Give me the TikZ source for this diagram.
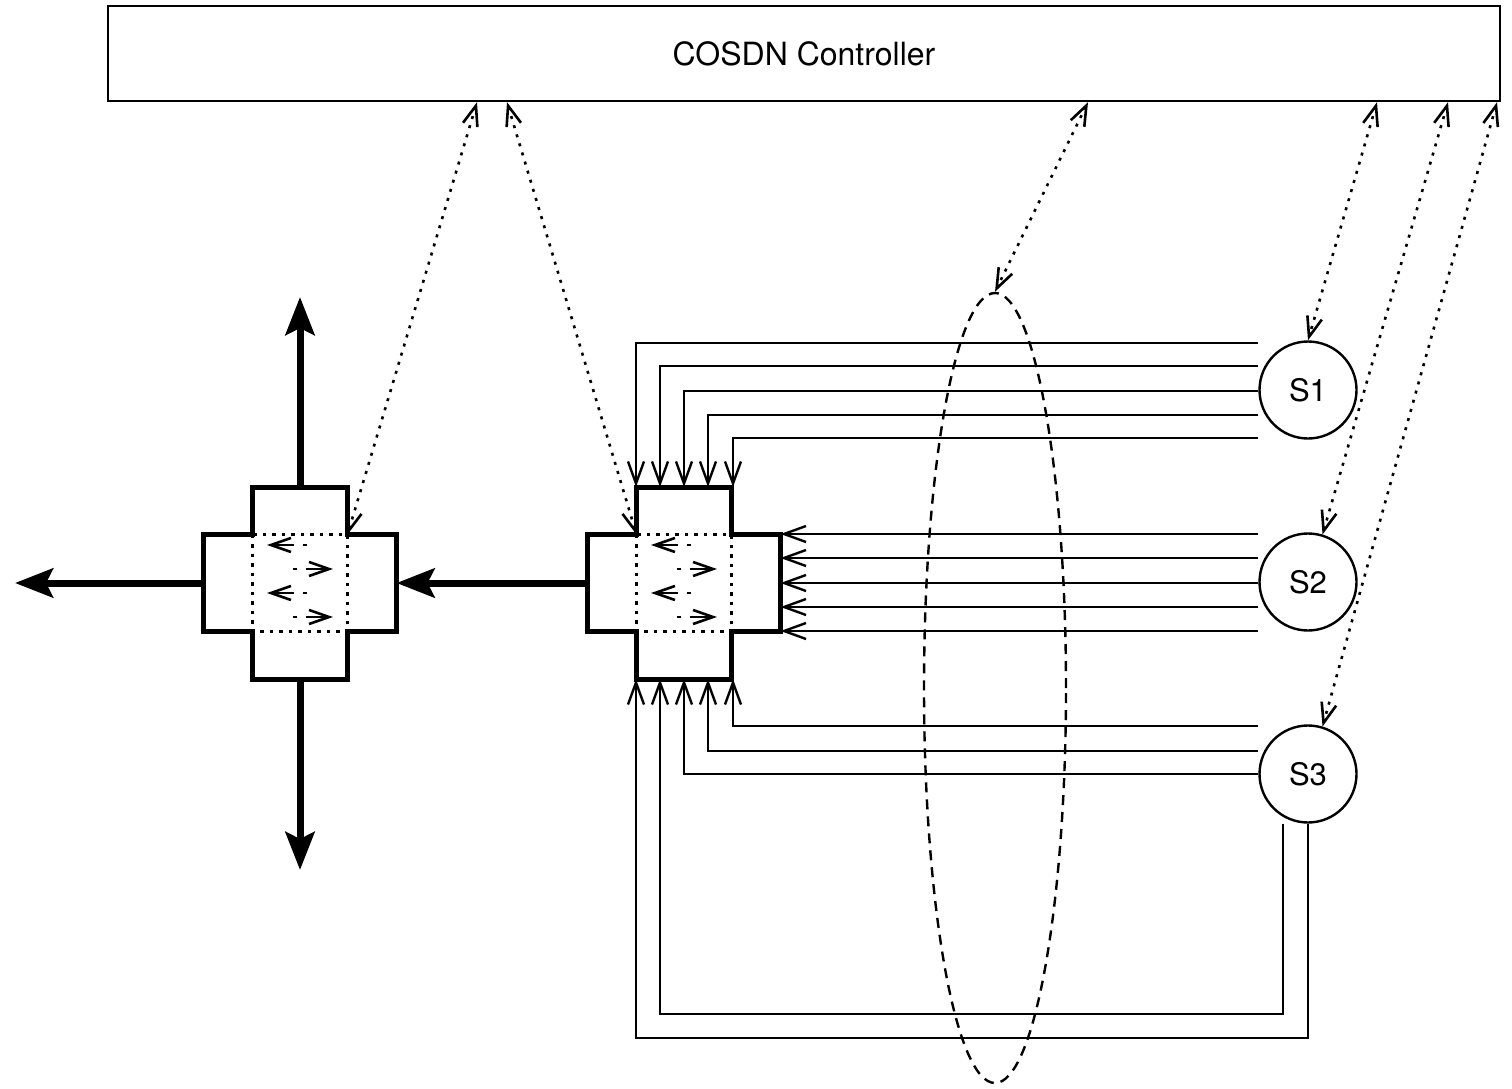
\documentclass[tikz,border=0pt]{standalone}
\usepackage{fontspec}
\setmainfont{TeX Gyre Heros}
\usetikzlibrary{arrows.meta,shapes.geometric}
\newcommand\mkcross[3]{%
  \node[colbox] (#1) at (#2,#3) {};
  \node[armbox] (#1a) at (#2,#3) {};
  \draw[innerdot] (#1.north west |- #1a.north) rectangle (#1.south east |- #1a.south);
  \draw[crossline] (#1.north west) -- (#1.north east) -- (#1.north east |- #1a.north) -- (#1a.north east) -- (#1a.south east) -- (#1.south east |- #1a.south) -- (#1.south east) -- (#1.south west) -- (#1.south west |- #1a.south) -- (#1a.south west) -- (#1a.north west) -- (#1.north west |- #1a.north) -- cycle;
  \foreach \dy in {-38,10} {
    \draw[inarrow] ([shift={(7,\dy)}]#1.center) -- ([shift={(-33,\dy)}]#1.center);
  }
  \foreach \dy in {-14,34} {
    \draw[inarrow] ([shift={(-7,\dy)}]#1.center) -- ([shift={(33,\dy)}]#1.center);
  }
}
\begin{document}
\begin{tikzpicture}[x=1pt,y=-1pt,
  ctrlbox/.style={draw, line width=2.4pt, minimum width=1392pt, minimum height=95pt, inner sep=0pt, font=\fontsize{32}{38}\selectfont},
  swnode/.style={draw, circle, line width=2.4pt, minimum size=97pt, inner sep=0pt, font=\fontsize{31}{36}\selectfont},
  colbox/.style={inner sep=0pt, outer sep=0pt, minimum width=95pt, minimum height=192pt},
  armbox/.style={inner sep=0pt, outer sep=0pt, minimum width=193pt, minimum height=97pt},
  crossline/.style={line width=5pt, line join=miter},
  innerdot/.style={line width=3pt, dash pattern=on 3.5pt off 6pt},
  inarrow/.style={line width=2.6pt, dash pattern=on 4pt off 9pt on 40pt, -{Straight Barb[length=20pt,width=14pt]}},
  feed/.style={line width=2.4pt, -{Straight Barb[length=22pt,width=16pt]}},
  ctrlarrow/.style={line width=2.6pt, dash pattern=on 3pt off 6.5pt, {Straight Barb[length=20pt,width=15pt]}-{Straight Barb[length=20pt,width=15pt]}},
  bigarrow/.style={line width=7pt, -{Stealth[length=38pt,width=29pt,inset=7pt]}},
  grpellipse/.style={draw, ellipse, line width=2.4pt, dash pattern=on 10pt off 7pt, minimum width=142pt, minimum height=790pt, inner sep=0pt}
]
\useasboundingbox (0,0) rectangle (1512,1089);

\node[ctrlbox] (ctrl) at (804,53.5) {COSDN Controller};
\node[swnode] (S1) at (1308,390) {S1};
\node[swnode] (S2) at (1308,582) {S2};
\node[swnode] (S3) at (1308,774) {S3};

\mkcross{swL}{300}{583}
\mkcross{swR}{684}{583}

\node[grpellipse] (grp) at (995,688) {};

% feeds from S1
\foreach \y/\x in {343/636,366/660,391/684,415/708,438/733}
  \draw[feed] (S1.west |- 0,\y) -| (\x,0 |- swR.north);
% feeds from S2
\foreach \y in {534,558,583,607,631}
  \draw[feed] (S2.west |- 0,\y) -- (swRa.east |- 0,\y);
% feeds from S3
\foreach \y/\x in {726/733,751/708,774/684}
  \draw[feed] (S3.west |- 0,\y) -| (\x,0 |- swR.south);
\draw[feed] (S3.south -| 1283,0) -- (1283,1014) -| (660,0 |- swR.south);
\draw[feed] (S3.south) -- (1308,1038) -| (636,0 |- swR.south);

% controller links
\draw[ctrlarrow] (477,0 |- ctrl.south) -- (swL.north east |- swLa.north);
\draw[ctrlarrow] (507,0 |- ctrl.south) -- (swR.north west |- swRa.north);
\draw[ctrlarrow] (1088,0 |- ctrl.south) -- (grp.north);
\draw[ctrlarrow] (1377,0 |- ctrl.south) -- (S1.north);
\draw[ctrlarrow] (1448,0 |- ctrl.south) -- (S2.73);
\draw[ctrlarrow] (1497,0 |- ctrl.south) -- (S3.73);

% thick arrows
\draw[bigarrow] (swL.north) -- (swL.north |- 0,297);
\draw[bigarrow] (swL.south) -- (swL.south |- 0,870);
\draw[bigarrow] (swLa.west) -- (swLa.west -| 15,0);
\draw[bigarrow] (swRa.west) -- (swLa.east);
\end{tikzpicture}
\end{document}
